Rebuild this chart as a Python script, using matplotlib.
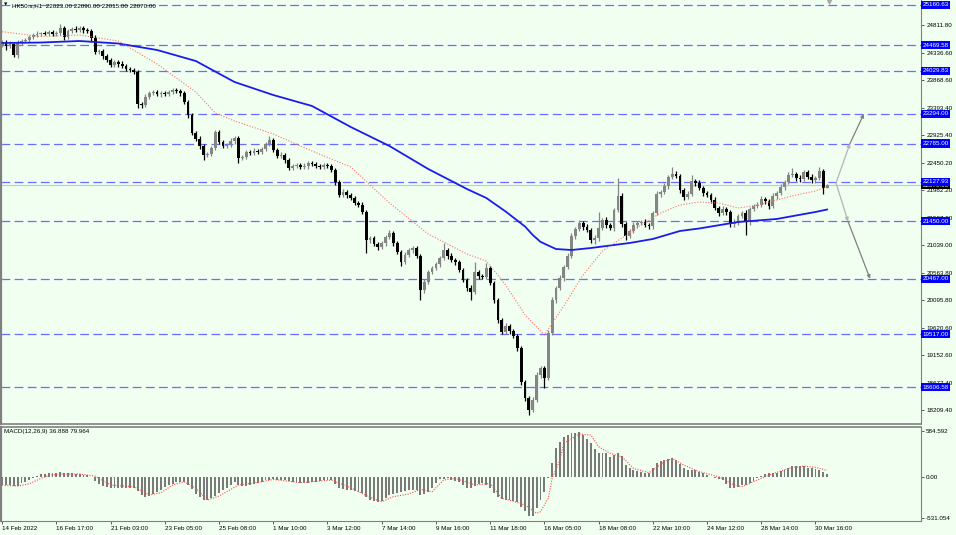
import numpy as np
import matplotlib
matplotlib.use("Agg")
import matplotlib.pyplot as plt

plt.rcParams["font.family"] = ["Liberation Sans", "DejaVu Sans"]

W, H = 956, 535
BG = "#f0fff0"

# ---------------------------------------------------------------------------
# Data (HK50 H1)
# ---------------------------------------------------------------------------
first_open = 24480
closes = [
    24526, 24457, 24492, 24303, 24509, 24543, 24560, 24612, 24646, 24663, 24680, 24663, 24697, 24663,
    24680, 24766, 24612, 24714, 24749, 24732, 24766, 24732, 24714, 24594, 24354, 24372, 24286, 24217,
    24132, 24183, 24149, 24114, 24063, 24046, 24012, 23463, 23440, 23583, 23652, 23669, 23634, 23652,
    23634, 23669, 23700, 23686, 23652, 23497, 23274, 22966, 22863, 22743, 22589, 22606, 22709, 22983,
    22812, 22743, 22760, 22829, 22880, 22537, 22554, 22640, 22623, 22657, 22640, 22692, 22777, 22846,
    22674, 22572, 22589, 22503, 22366, 22400, 22417, 22383, 22400, 22452, 22434, 22400, 22383, 22417,
    22400, 22331, 22126, 21903, 21954, 21903, 21851, 21766, 21731, 21611, 21131, 21166, 21063, 21011,
    21080, 21183, 21251, 21080, 20926, 20754, 20874, 20960, 20994, 20857, 20274, 20411, 20583, 20651,
    20720, 20823, 20960, 20857, 20789, 20754, 20617, 20446, 20309, 20240, 20583, 20514, 20497, 20651,
    20394, 20103, 19760, 19554, 19657, 19571, 19486, 19280, 18697, 18423, 18217, 18388, 18817, 18937,
    18766, 19537, 20103, 20309, 20480, 20669, 20857, 21200, 21320, 21423, 21354, 21303, 21131, 21160,
    21337, 21474, 21389, 21337, 21646, 21886, 21406, 21200, 21286, 21389, 21423, 21440, 21389, 21371,
    21594, 21920, 21954, 22057, 22211, 22263, 22229, 21989, 21869, 21920, 22143, 22109, 22023, 21937,
    21903, 21817, 21680, 21594, 21663, 21611, 21406, 21440, 21543, 21594, 21440, 21663, 21714, 21731,
    21834, 21800, 21714, 21886, 21937, 22040, 22126, 22246, 22263, 22194, 22177, 22297, 22211, 22160,
    22194, 22314, 22023, 22070,
]
# wick lengths (points) above / below the candle body
wick_hi = [
    40, 30, 50, 25, 45, 30, 35, 40, 30, 45, 25, 35, 30, 40,
    30, 70, 35, 40, 30, 45, 35, 30, 40, 30, 45, 35, 30, 40,
    35, 40, 30, 45, 30, 35, 30, 40, 35, 45, 30, 40, 35, 30,
    40, 35, 30, 45, 35, 30, 40, 35, 30, 45, 35, 30, 40, 35,
    35, 30, 40, 45, 30, 35, 40, 30, 35, 45, 30, 40, 35, 70,
    30, 40, 55, 35, 30, 40, 35, 30, 45, 35, 30, 40, 35, 30,
    35, 40, 30, 35, 45, 30, 40, 35, 30, 45, 40, 35, 30, 40,
    40, 35, 50, 30, 40, 35, 45, 30, 40, 35, 30, 45, 40, 35,
    40, 30, 120, 35, 45, 30, 35, 40, 30, 45, 170, 40, 35, 85,
    30, 35, 40, 30, 45, 35, 30, 40, 35, 40, 30, 45, 50, 40,
    30, 60, 45, 40, 50, 35, 45, 60, 40, 50, 35, 45, 40, 50,
    270, 40, 45, 35, 40, 310, 45, 35, 40, 50, 35, 40, 45, 35,
    40, 45, 35, 50, 40, 120, 45, 35, 40, 50, 100, 40, 45, 35,
    40, 35, 45, 40, 50, 35, 40, 45, 35, 40, 45, 40, 35, 45,
    45, 40, 35, 45, 40, 50, 35, 45, 100, 40, 45, 35, 40, 45,
    40, 70, 35, 20,
]
wick_lo = [
    35, 60, 30, 40, 50, 30, 25, 40, 35, 30, 40, 25, 35, 30,
    30, 35, 60, 30, 40, 35, 30, 45, 35, 50, 40, 35, 45, 30,
    40, 35, 45, 30, 40, 35, 40, 60, 45, 30, 40, 35, 30, 45,
    30, 40, 35, 30, 45, 40, 50, 40, 35, 45, 85, 40, 35, 30,
    40, 35, 30, 40, 45, 85, 40, 35, 30, 40, 35, 30, 40, 35,
    40, 35, 30, 45, 40, 35, 30, 40, 35, 45, 30, 35, 40, 35,
    30, 35, 45, 40, 35, 45, 30, 40, 35, 40, 220, 45, 40, 50,
    35, 45, 40, 50, 35, 60, 40, 35, 45, 40, 170, 50, 40, 35,
    35, 45, 40, 50, 35, 45, 40, 35, 60, 140, 30, 45, 40, 35,
    40, 45, 50, 40, 35, 45, 40, 60, 50, 45, 85, 40, 35, 45,
    170, 40, 35, 45, 40, 50, 35, 40, 45, 35, 50, 40, 45, 60,
    45, 40, 50, 35, 45, 40, 50, 70, 40, 35, 45, 40, 35, 50,
    45, 40, 50, 35, 45, 40, 35, 50, 45, 40, 35, 45, 40, 50,
    35, 45, 40, 50, 40, 45, 60, 50, 45, 40, 220, 45, 40, 35,
    40, 45, 50, 35, 45, 40, 45, 35, 40, 50, 45, 40, 35, 45,
    45, 40, 100, 8,
]

# moving averages (sampled at bar indices)
slow_idx = [0, 10, 20, 30, 40, 50, 60, 70, 80, 90, 100, 110, 120, 125, 130, 135, 137,
            139, 141, 143, 147, 152, 158, 162, 168, 175, 180, 190, 200, 210, 213]
slow_val = [24509, 24517, 24543, 24500, 24389, 24200, 23840, 23617, 23429, 23069, 22743,
            22349, 22006, 21852, 21620, 21363, 21217, 21100, 21037, 20977, 20960, 20994,
            21046, 21080, 21149, 21286, 21329, 21440, 21492, 21612, 21654]
fast_idx = [0, 10, 20, 30, 40, 50, 55, 60, 70, 80, 90, 100, 110, 120, 125, 130, 135, 140,
            145, 150, 155, 160, 165, 170, 175, 180, 185, 190, 195, 200, 205, 210, 213]
fast_val = [24703, 24620, 24646, 24543, 24149, 23669, 23309, 23172, 22949, 22657, 22383,
            21766, 21234, 20891, 20771, 20360, 19846, 19503, 20000, 20531, 20943, 21166,
            21389, 21594, 21731, 21783, 21766, 21680, 21731, 21817, 21903, 21971, 22049]

# MACD(12,26,9)
macd_hist = [
    -106, -106, -108, -112, -119, -85, -64, -40, -21, 10, 30, 36, 42, 48,
    52, 58, 50, 44, 42, 38, 34, 28, 21, 0, -51, -95, -118, -132,
    -140, -145, -148, -146, -143, -140, -145, -185, -235, -254, -240, -220, -190, -165,
    -135, -110, -90, -72, -64, -62, -100, -160, -220, -262, -292, -290, -265, -240,
    -210, -175, -140, -105, -72, -100, -119, -112, -106, -95, -80, -62, -45, -36,
    -34, -38, -42, -48, -55, -62, -70, -76, -77, -76, -70, -62, -55, -48,
    -42, -48, -90, -140, -155, -165, -172, -178, -190, -210, -255, -297, -315, -326,
    -312, -275, -235, -222, -212, -198, -186, -172, -170, -175, -230, -225, -200, -145,
    -80, -34, -24, -22, -38, -52, -62, -100, -148, -138, -115, -90, -80, -100,
    -148, -210, -256, -280, -290, -297, -305, -318, -380, -440, -495, -505, -402, -300,
    -200, -20, 180, 360, 445, 500, 535, 555, 560, 572, 530, 480, 430, 350,
    305, 297, 300, 254, 270, 300, 260, 150, 110, 82, 70, 64, 50, 44,
    110, 170, 195, 212, 225, 233, 215, 160, 105, 85, 80, 82, 60, 42,
    20, -5, -18, -30, -42, -90, -148, -140, -125, -110, -100, -85, -55, -21,
    15, 34, 42, 48, 51, 68, 85, 115, 130, 140, 138, 135, 115, 105,
    97, 85, 64, 37,
]
sig_idx = [0, 4, 7, 10, 12, 15, 20, 24, 28, 34, 38, 41, 44, 47, 50, 53, 56, 61, 67, 70,
           77, 82, 85, 90, 95, 98, 101, 105, 108, 111, 114, 117, 121, 122, 126, 129, 131,
           135, 138, 139, 141, 142, 144, 145, 149, 152, 154, 157, 160, 163, 167, 171, 173,
           176, 180, 185, 189, 191, 195, 198, 203, 207, 210, 213]
sig_val = [-106, -119, -90, -21, 15, 34, 34, 8, -106, -127, -233, -204, -106, -64, -148,
           -297, -246, -106, -64, -34, -76, -55, -42, -140, -263, -318, -254, -220, -161,
           -191, -42, -21, -85, -106, -85, -275, -297, -360, -466, -445, -275, -21, 212,
           424, 542, 530, 381, 297, 254, 106, 51, 191, 233, 148, 64, 0, -106, -127, -42,
           21, 106, 136, 119, 80]

levels = [25160.63, 24469.58, 24029.83, 23294.00, 22785.00, 22127.93, 21450.00,
          20467.00, 19517.00, 18606.58]
price_ticks = [24811.80, 24336.60, 23868.60, 23393.40, 22925.40, 22450.20, 21982.20,
               21507.00, 21039.00, 20563.80, 20095.80, 19620.60, 19152.60, 18677.40, 18209.40]
last_price = 22070.00
macd_ticks = [584.592, 0.0, -531.054]
macd_tick_labels = ["584.592", "0.00", "-531.054"]
date_labels = ["14 Feb 2022", "16 Feb 17:00", "21 Feb 03:00", "23 Feb 05:00", "25 Feb 08:00",
               "1 Mar 10:00", "3 Mar 12:00", "7 Mar 14:00", "9 Mar 16:00", "11 Mar 18:00",
               "16 Mar 05:00", "18 Mar 08:00", "22 Mar 10:00", "24 Mar 12:00",
               "28 Mar 14:00", "30 Mar 16:00"]
date_step = 14

# projection arrows (bar index, price)
up_x, up_y = [215.3, 218.9, 222.5], [22110, 22785, 23294]
dn_x, dn_y = [215.3, 218.4, 224.1], [22110, 21450, 20467]

header = "HK50.s,H1  22023.00 22090.00 22015.00 22070.00"
macd_header = "MACD(12,26,9) 36.888 79.964"

# ---------------------------------------------------------------------------
fig = plt.figure(figsize=(W / 100, H / 100), dpi=100, facecolor=BG)


def frac(x0, y0, x1, y1):
    return [x0 / W, 1 - y1 / H, (x1 - x0) / W, (y1 - y0) / H]


ax = fig.add_axes(frac(1, 0, 921, 424), facecolor=BG)
ax2 = fig.add_axes(frac(1, 427, 921, 521), facecolor=BG)

bar_px = 3.873
xlim = (-0.3, -0.3 + 920 / bar_px)
FS = 4.5
GRAY = "#808080"

# candles
c = np.array(closes, float)
o = np.concatenate([[first_open], c[:-1]])
hi = np.maximum(o, c) + np.array(wick_hi)
lo = np.minimum(o, c) - np.array(wick_lo)
x = np.arange(len(c))
cols = np.where(c >= o, "#858585", "#000000")
ax.vlines(x, lo, hi, colors=cols, lw=0.9, zorder=3)
ax.bar(x, np.maximum(np.abs(c - o), 10), bottom=np.minimum(o, c), width=0.72,
       color=cols, linewidth=0, zorder=3)

ax.plot(slow_idx, slow_val, color="#1c1ce8", lw=1.3, zorder=4)
ax.plot(fast_idx, fast_val, color="#ff7070", lw=0.8, ls=(0, (1, 1.5)), zorder=4)

for lv in levels:
    ax.axhline(lv, color="#6c6cff", lw=0.9, ls=(0, (7, 3.5)), zorder=2)
ax.axhline(last_price, color="#c8c8c8", lw=0.8, zorder=1.5)

# projection arrows
for xs, ys in [(up_x, up_y), (dn_x, dn_y)]:
    for k, col in [(0, "#b4b4b4"), (1, "#808080")]:
        ax.annotate("", xy=(xs[k + 1], ys[k + 1]), xytext=(xs[k], ys[k]),
                    arrowprops=dict(arrowstyle="-|>", color=col, lw=0.9,
                                    shrinkA=0, shrinkB=0, mutation_scale=5), zorder=5)

ax.plot([213.5], [25225], marker="v", ms=3.5, color="#a8a8a8", zorder=5)

ax.set_xlim(*xlim)
ax.set_ylim(17977, 25246)
ax.set_xticks([])
ax.yaxis.tick_right()
ax.set_yticks(price_ticks)
ax.set_yticklabels([f"{v:.2f}" for v in price_ticks])
ax.tick_params(axis="y", direction="out", length=2.5, width=0.6, color="#404040",
               labelsize=FS, pad=1.5)

for side, sp in ax.spines.items():
    sp.set_color(GRAY)
ax.spines["top"].set_visible(False)
ax.spines["left"].set_linewidth(1.6)
ax.spines["bottom"].set_linewidth(1.2)

# level price boxes
ax.annotate(f"{last_price:.2f}", xy=(1, last_price), xycoords=("axes fraction", "data"),
            xytext=(1.2, 0), textcoords="offset points", ha="left", va="center",
            fontsize=FS, color="white", annotation_clip=False, zorder=6,
            bbox=dict(boxstyle="square,pad=0.25", fc="black", ec="none"))
for lv in levels:
    ax.annotate(f"{lv:.2f}", xy=(1, lv), xycoords=("axes fraction", "data"),
                xytext=(1.2, 0), textcoords="offset points", ha="left", va="center",
                fontsize=FS, color="white", annotation_clip=False, zorder=7,
                bbox=dict(boxstyle="square,pad=0.25", fc="#0000ff", ec="none"))

# MACD panel
ax2.bar(x, macd_hist, width=0.5, color="#7a7a7a", linewidth=0, zorder=3)
ax2.plot(sig_idx, sig_val, color="#ff4a4a", lw=0.8, ls=(0, (1, 1.3)), zorder=4)
ax2.set_xlim(*xlim)
ax2.set_ylim(-563, 632)
ax2.yaxis.tick_right()
ax2.set_yticks(macd_ticks)
ax2.set_yticklabels(macd_tick_labels)
ax2.set_xticks(np.arange(len(date_labels)) * date_step)
ax2.set_xticklabels(date_labels)
for lbl in ax2.get_xticklabels():
    lbl.set_horizontalalignment("left")
ax2.tick_params(axis="both", direction="out", length=2.5, width=0.6, color="#404040",
                labelsize=FS, pad=1.2)
for sp in ax2.spines.values():
    sp.set_color(GRAY)
ax2.spines["top"].set_linewidth(1.2)
ax2.spines["left"].set_linewidth(1.6)

fig.text(4 / W, 1 - 5 / H, "\u25bc", fontsize=3.2, va="center", ha="left",
         family=["DejaVu Sans"])
fig.text(12 / W, 1 - 5.5 / H, header, fontsize=FS, va="center", ha="left")
fig.text(4 / W, 1 - 432 / H, macd_header, fontsize=FS, va="center", ha="left")

fig.savefig("out.png", dpi=100, facecolor=BG)
